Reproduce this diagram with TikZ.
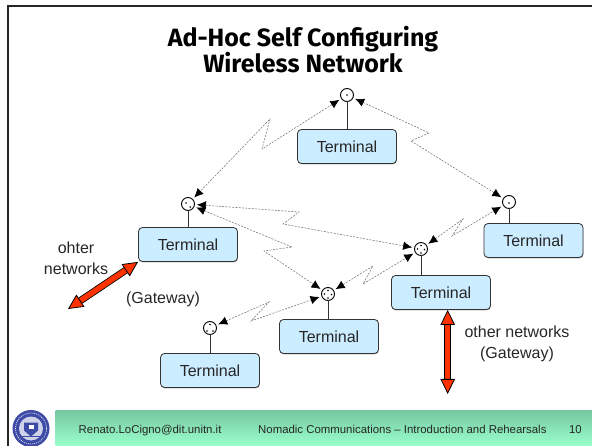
\documentclass[tikz,border=0pt]{standalone}
\usepackage{fontspec}
\setmainfont{Liberation Sans}
\newfontfamily\titlefont{Fira Sans}
\usetikzlibrary{arrows.meta, positioning, shadows}
\definecolor{termblue}{HTML}{CCECFF}
\definecolor{fatred}{HTML}{FF3300}
\definecolor{sealblue}{HTML}{3D4BA6}
\definecolor{footertop}{HTML}{78C8A0}
\definecolor{footerbot}{HTML}{99FFCC}
\tikzset{
  termbox/.style={draw=black!80, fill=termblue, rounded corners=4pt, line width=0.8pt, minimum width=99pt, minimum height=34pt, inner sep=0pt, font=\fontsize{16}{20}\selectfont, text=black!85, drop shadow={shadow xshift=0.4pt, shadow yshift=-1pt, fill=black!50, opacity=0.6}},
  ant/.style={circle, draw=black, fill=white, line width=0.9pt, minimum size=13pt, inner sep=0pt, outer sep=2.5pt},
  stem/.style={line width=1pt, draw=black!80, shorten <=-2.5pt},
  radiolink/.style={draw=black!55, line width=0.55pt, dash pattern=on 2pt off 1.3pt, {Latex[length=9pt,width=8.5pt,black]}-{Latex[length=9pt,width=8.5pt,black]}},
  fatlink/.style={line width=0.8pt, double=fatred, double distance=5.5pt, draw=black, {Triangle[length=15pt,width=14.5pt,fill=fatred,line width=0.8pt]}-{Triangle[length=15pt,width=14.5pt,fill=fatred,line width=0.8pt]}},
  label/.style={font=\fontsize{16}{21}\selectfont, text=black!85, align=center, inner sep=0pt},
  footer/.style={font=\fontsize{11.4}{14}\selectfont, text=black!85, inner sep=0pt}
}
\begin{document}
\begin{tikzpicture}[x=1pt,y=-1pt]
\useasboundingbox (0,0) rectangle (592,446);
\path[draw][line width=2pt,black!85] (592,6.5) -- (7.5,6.5) -- (7.5,446);
\path[shade,top color=footertop,bottom color=footerbot] (55.5,410.5) rectangle (592,446);
\path (303,50) node[font=\titlefont\bfseries\fontsize{25}{26}\selectfont,align=center,inner sep=0pt] (title) {Ad-Hoc Self Configuring\\Wireless Network};
\foreach \n/\x/\y in {1/347/146.5,2/188/244.5,3/210/370.5,4/329/336.5,5/441/292.5,6/533.5/240.5}
  \path (\x,\y) node[termbox] (term\n) {Terminal\hspace{8pt}};
\foreach \n/\x/\y in {1/347/95,2/188/204,3/210/328,4/328/294,5/421/249,6/509/202}
  \path (\x,\y) node[ant] (ant\n) {};
\foreach \n in {1,2,3,4,5,6}
  \path[draw][stem] (ant\n.south) -- (ant\n.south |- term\n.north);
\foreach \n/\dx/\dy in {1/0/0,2/-2/-1,2/2.3/3,3/0/-3.5,3/-3/3,3/3/3,4/0/-3.5,4/-3.5/0,4/3.5/0.5,4/0/4,5/0/-3.5,5/-3.5/0,5/3.5/0.5,5/0/4,6/0/1}
  \fill (ant\n.center) ++(\dx,\dy) circle (0.9pt);
\coordinate (zig1a) at (262,149);
\coordinate (zig1b) at (270,119);
\coordinate (zig2a) at (429,133);
\coordinate (zig2b) at (411,141);
\coordinate (zig3a) at (299,212);
\coordinate (zig3b) at (283,224);
\coordinate (zig4a) at (292,247);
\coordinate (zig4b) at (264,251);
\coordinate (zig5a) at (269,302);
\coordinate (zig5b) at (251,321);
\coordinate (zig6a) at (373,266);
\coordinate (zig6b) at (363,284);
\coordinate (zig7a) at (463,219);
\coordinate (zig7b) at (452,236);
\path[draw][radiolink] (ant1) -- (zig1a) -- (zig1b) -- (ant2);
\path[draw][radiolink] (ant1) -- (zig2a) -- (zig2b) -- (ant6);
\path[draw][radiolink] (ant2) -- (zig3a) -- (zig3b) -- (ant5);
\path[draw][radiolink] (ant2) -- (zig4a) -- (zig4b) -- (ant4);
\path[draw][radiolink] (ant3) -- (zig5a) -- (zig5b) -- (ant4);
\path[draw][radiolink] (ant4) -- (zig6a) -- (zig6b) -- (ant5);
\path[draw][radiolink] (ant5) -- (zig7a) -- (zig7b) -- (ant6);
\coordinate (gate1) at (68,309);
\coordinate (gate2) at (447.7,394);
\path[draw][fatlink] (term2.south west) -- (gate1);
\path[draw][fatlink] (gate2 |- term5.south) -- (gate2);
\path (76,258.5) node[label] (othernet1) {ohter\\networks};
\path (163,299) node[label] (gatelabel1) {(Gateway)};
\path (517,343.5) node[label] (othernet2) {other networks\\(Gateway)\hspace{8pt}};
\path (31,428.5) node[circle,fill=sealblue,minimum size=37pt,inner sep=0pt] (seal) {};
\path[draw][white,line width=0.6pt,dash pattern=on 1pt off 1pt] (seal.center) circle (15.5pt);
\path[fill=sealblue!25] (seal.center) circle (12pt);
\path[fill=sealblue] (seal.center) ++(-7,-6) -- ++(14,0) -- ++(0,8) -- ++(-7,6) -- ++(-7,-6) -- cycle;
\path[fill=white] (seal.center) ++(-2.5,-3.5) rectangle ++(5,4);
\path[draw][sealblue,line width=1.2pt] (seal.center) ++(-9,8) -- ++(18,0);
\path (78.5,433) node[footer,anchor=base west] (mailtext) {Renato.LoCigno@dit.unitn.it};
\path (546.7,433) node[footer,anchor=base east] (coursetext) {Nomadic Communications -- Introduction and Rehearsals};
\path (582,433) node[footer,anchor=base east] (pagetext) {10};
\end{tikzpicture}
\end{document}
